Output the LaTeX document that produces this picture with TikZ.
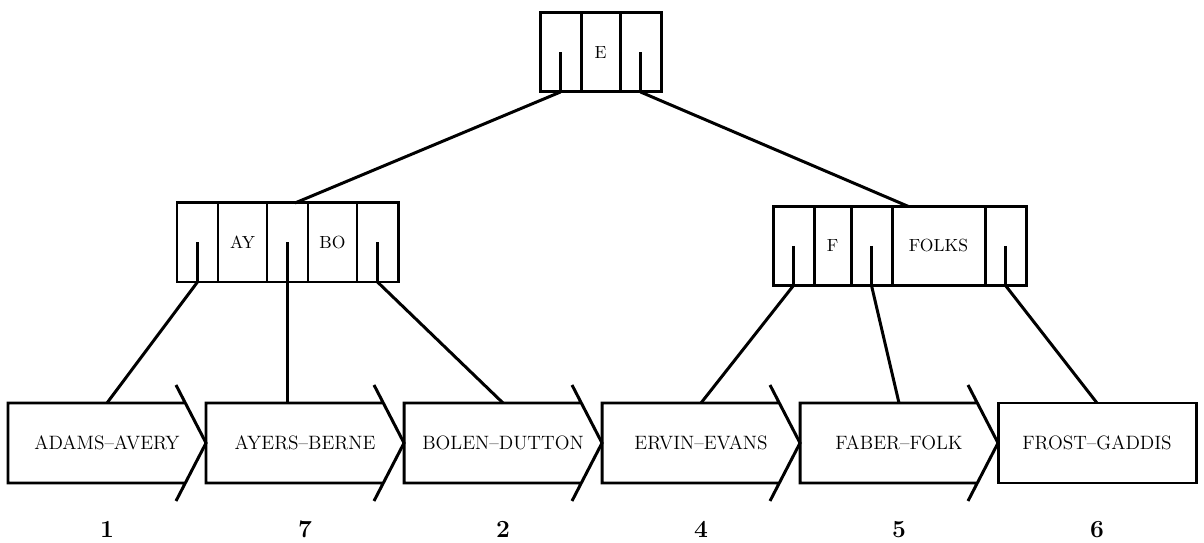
\documentclass[tikz,border=0pt]{standalone}
\usetikzlibrary{positioning}

\tikzset{
  cell/.style={draw, outer sep=0pt, inner sep=0pt, minimum height=1.58cm},
  ptrcell/.style={cell, minimum width=0.82cm,
    path picture={\draw (path picture bounding box.center) -- (path picture bounding box.south);}},
  keycell/.style={cell, minimum width=#1},
  leafbox/.style={outer sep=0pt, inner sep=0pt, minimum width=3.96cm, minimum height=1.6cm,
    font=\fontsize{11}{13}\selectfont},
  runno/.style={font=\fontsize{14}{16}\selectfont\bfseries},
}

\begin{document}
\begin{tikzpicture}[line width=1.7pt, node distance=0pt]

	\useasboundingbox (0,0) rectangle (24.08,10.86);

	% Root node.
	\node[ptrcell]                     (root_p1) at (11.21,9.81) {};
	\node[keycell=0.78cm, right=of root_p1] (root_e) {E};
	\node[ptrcell, right=of root_e]    (root_p2) {};

	% Left index node.
	\node[ptrcell]                     (lft_p1) at (3.95,6.01) {};
	\node[keycell=0.98cm, right=of lft_p1] (lft_ay) {AY};
	\node[ptrcell, right=of lft_ay]    (lft_p2) {};
	\node[keycell=0.98cm, right=of lft_p2] (lft_bo) {BO};
	\node[ptrcell, right=of lft_bo]    (lft_p3) {};

	% Right index node.
	\node[ptrcell]                     (rgt_p1) at (15.87,5.94) {};
	\node[keycell=0.74cm, right=of rgt_p1] (rgt_f) {F};
	\node[ptrcell, right=of rgt_f]     (rgt_p2) {};
	\node[keycell=1.86cm, right=of rgt_p2] (rgt_folks) {FOLKS};
	\node[ptrcell, right=of rgt_folks] (rgt_p3) {};

	% Leaf blocks.
	\node[leafbox]              (adams) at (2.14,2.0) {ADAMS--AVERY};
	\node[leafbox, right=of adams] (ayers) {AYERS--BERNE};
	\node[leafbox, right=of ayers] (bolen) {BOLEN--DUTTON};
	\node[leafbox, right=of bolen] (ervin) {ERVIN--EVANS};
	\node[leafbox, right=of ervin] (faber) {FABER--FOLK};
	\node[leafbox, draw, right=of faber] (frost) {FROST--GADDIS};

	% Block numbers.
	\node[runno] (no_adams) at ([yshift=-0.93cm]adams.south) {1};
	\node[runno] (no_ayers) at ([yshift=-0.93cm]ayers.south) {7};
	\node[runno] (no_bolen) at ([yshift=-0.93cm]bolen.south) {2};
	\node[runno] (no_ervin) at ([yshift=-0.93cm]ervin.south) {4};
	\node[runno] (no_faber) at ([yshift=-0.93cm]faber.south) {5};
	\node[runno] (no_frost) at ([yshift=-0.93cm]frost.south) {6};

	% Arrow outlines of the chained blocks.
	\draw ([xshift=-0.41cm]adams.north east) -- (adams.north west) -- (adams.south west) -- ([xshift=-0.41cm]adams.south east)
	      ([shift={(-0.6,1.16)}]adams.east) -- (adams.east) -- ([shift={(-0.6,-1.16)}]adams.east);
	\draw ([xshift=-0.41cm]ayers.north east) -- (ayers.north west) -- (ayers.south west) -- ([xshift=-0.41cm]ayers.south east)
	      ([shift={(-0.6,1.16)}]ayers.east) -- (ayers.east) -- ([shift={(-0.6,-1.16)}]ayers.east);
	\draw ([xshift=-0.41cm]bolen.north east) -- (bolen.north west) -- (bolen.south west) -- ([xshift=-0.41cm]bolen.south east)
	      ([shift={(-0.6,1.16)}]bolen.east) -- (bolen.east) -- ([shift={(-0.6,-1.16)}]bolen.east);
	\draw ([xshift=-0.41cm]ervin.north east) -- (ervin.north west) -- (ervin.south west) -- ([xshift=-0.41cm]ervin.south east)
	      ([shift={(-0.6,1.16)}]ervin.east) -- (ervin.east) -- ([shift={(-0.6,-1.16)}]ervin.east);
	\draw ([xshift=-0.41cm]faber.north east) -- (faber.north west) -- (faber.south west) -- ([xshift=-0.41cm]faber.south east)
	      ([shift={(-0.6,1.16)}]faber.east) -- (faber.east) -- ([shift={(-0.6,-1.16)}]faber.east);

	% Pointers.
	\draw (root_p1.south) -- ([xshift=0.15cm]lft_p2.north);
	\draw (root_p2.south) -- ([xshift=-0.6cm]rgt_folks.north);
	\draw  (lft_p1.south) -- (adams.north);
	\draw  (lft_p2.south) -- (lft_p2.south |- ayers.north);
	\draw  (lft_p3.south) -- (bolen.north);
	\draw  (rgt_p1.south) -- (ervin.north);
	\draw  (rgt_p2.south) -- (faber.north);
	\draw  (rgt_p3.south) -- (frost.north);

\end{tikzpicture}
\end{document}
